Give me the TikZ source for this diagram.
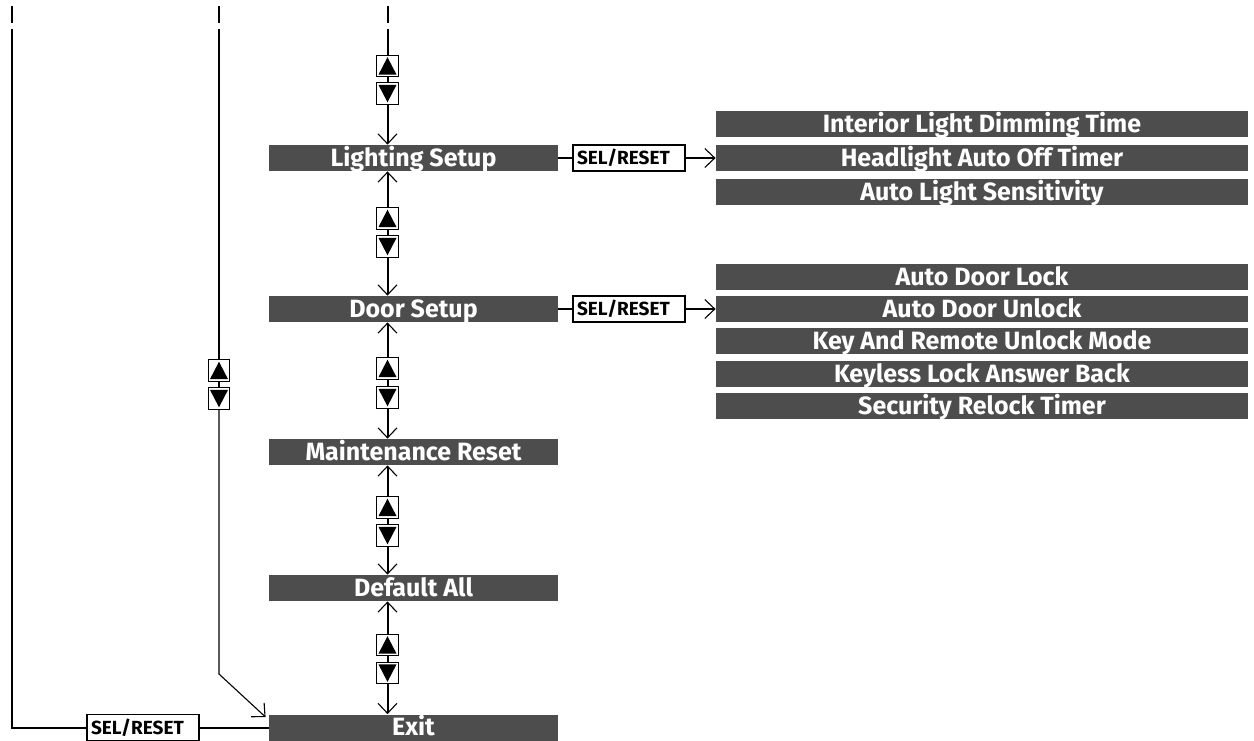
\documentclass[tikz,border=0pt]{standalone}
\usepackage{fontspec}
\setmainfont{Fira Sans}
\usetikzlibrary{arrows.meta, positioning, calc}
\usepackage{xcolor}
\definecolor{menugray}{HTML}{4D4D4D}

\begin{document}
\begin{tikzpicture}[x=0.5pt, y=-0.5pt,
    menu/.style={rectangle, fill=menugray, text=white, inner sep=0pt,
                 minimum width=144.5pt, minimum height=13pt,
                 text height=8.4pt, text depth=0pt,
                 font=\bfseries\fontsize{12.5}{13}\selectfont},
    submenu/.style={menu, minimum width=266pt},
    selbox/.style={rectangle, draw, line width=0.6pt, fill=white,
                   text width=52pt, align=left, inner xsep=2pt, inner ysep=0pt,
                   minimum height=13pt, text height=6.5pt, text depth=0pt,
                   font=\bfseries\fontsize{9.5}{10}\selectfont},
    btn/.style={rectangle, draw, line width=0.6pt, fill=white,
                minimum size=10.8pt, inner sep=0pt},
    upbtn/.style={btn, path picture={
        \fill[black] ([shift={(0.9pt,1.1pt)}]path picture bounding box.south west)
           -- ([shift={(-0.9pt,1.1pt)}]path picture bounding box.south east)
           -- ([yshift=-1pt]path picture bounding box.north) -- cycle;}},
    dnbtn/.style={btn, path picture={
        \fill[black] ([shift={(0.9pt,-1.1pt)}]path picture bounding box.north west)
           -- ([shift={(-0.9pt,-1.1pt)}]path picture bounding box.north east)
           -- ([yshift=1pt]path picture bounding box.south) -- cycle;}},
    link/.style={line width=1pt},
    thinlink/.style={line width=0.55pt},
    cut/.style={dash pattern=on 8.5pt off 3pt on 400pt},
    arrow/.style={-{Straight Barb[length=5pt, width=9.5pt, line width=0.55pt]}, line width=1pt},
  ]
    \useasboundingbox (0,0) rectangle (1254,740);

    % main menu column
    \node[menu] (lighting) at (413.5,158) {Lighting Setup};
    \node[menu] (door) at (413.5,309) {Door Setup};
    \node[menu] (maint) at (413.5,452) {Maintenance Reset};
    \node[menu] (default) at (413.5,588) {Default All};
    \node[menu] (exit) at (413.5,727.5) {Exit};

    % lighting sub-items
    \node[submenu] (headlight) at (982,158) {Headlight Auto Off Timer};
    \node[submenu, above=3.5pt of headlight] (interior) {Interior Light Dimming Time};
    \node[submenu, below=3.5pt of headlight] (autolight) {Auto Light Sensitivity};

    % door sub-items
    \node[submenu] (unlock) at (982,309) {Auto Door Unlock};
    \node[submenu, above=2.75pt of unlock] (lock) {Auto Door Lock};
    \node[submenu, below=2.75pt of unlock] (remote) {Key And Remote Unlock Mode};
    \node[submenu, below=2.75pt of remote] (answer) {Keyless Lock Answer Back};
    \node[submenu, below=2.75pt of answer] (relock) {Security Relock Timer};

    \node[selbox] (sel1) at (629,158) {SEL/RESET};
    \node[selbox] (sel2) at (629,309) {SEL/RESET};
    \node[selbox] (sel3) at (143,727.5) {SEL/RESET};

    % up/down buttons
    \node[upbtn] (up1) at (387.5,66) {};
    \node[dnbtn] (dn1) at (387.5,93.5) {};
    \node[upbtn] (up2) at (387.5,218.5) {};
    \node[dnbtn] (dn2) at (387.5,246.5) {};
    \node[upbtn] (up3) at (387.5,368.5) {};
    \node[dnbtn] (dn3) at (387.5,397.5) {};
    \node[upbtn] (up4) at (387.5,507.5) {};
    \node[dnbtn] (dn4) at (387.5,535.5) {};
    \node[upbtn] (up5) at (387.5,645) {};
    \node[dnbtn] (dn5) at (387.5,673) {};
    \node[upbtn] (upL) at (219,370.5) {};
    \node[dnbtn] (dnL) at (219,398.5) {};

    \coordinate (top0) at (12,6);
    \coordinate (topL) at (219,6);
    \coordinate (topM) at (387.5,6);
    \coordinate (corner) at (12,727.5);
    \coordinate (bend) at (219,674);

    % column links
    \draw[link, cut] (topM) -- (up1);
    \draw[link] (up1) -- (dn1);
    \draw[arrow] (dn1) -- (dn1 |- lighting.north);
    \draw[arrow] (up2) -- (up2 |- lighting.south);
    \draw[link] (up2) -- (dn2);
    \draw[arrow] (dn2) -- (dn2 |- door.north);
    \draw[arrow] (up3) -- (up3 |- door.south);
    \draw[link] (up3) -- (dn3);
    \draw[arrow] (dn3) -- (dn3 |- maint.north);
    \draw[arrow] (up4) -- (up4 |- maint.south);
    \draw[link] (up4) -- (dn4);
    \draw[arrow] (dn4) -- (dn4 |- default.north);
    \draw[arrow] (up5) -- (up5 |- default.south);
    \draw[link] (up5) -- (dn5);
    \draw[arrow] (dn5) -- (dn5 |- exit.north);

    % sub-menu links
    \draw[link] (lighting) -- (sel1);
    \draw[arrow] (sel1) -- (headlight);
    \draw[link] (door) -- (sel2);
    \draw[arrow] (sel2) -- (unlock);

    % back to exit
    \draw[link, cut] (top0) -- (corner) -- (sel3);
    \draw[link] (sel3) -- (exit);
    \draw[thinlink, cut] (topL) -- (upL);
    \draw[thinlink] (upL) -- (dnL);
    \draw[arrow, thinlink] (dnL) -- (bend) -- ($(exit.north west)+(-1.5pt,-1.5pt)$);
  \end{tikzpicture}
\end{document}
